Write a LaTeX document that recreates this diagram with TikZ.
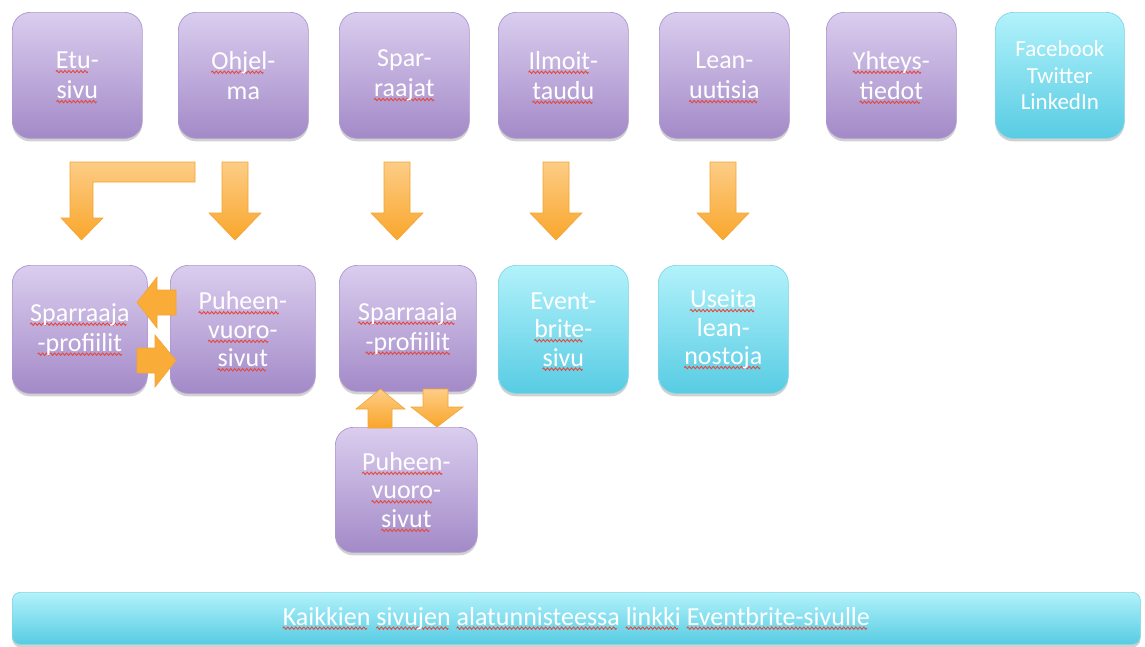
\documentclass[tikz,border=0pt]{standalone}
\usepackage{fontspec}
\setmainfont{Carlito}
\usetikzlibrary{shadows}
\definecolor{purpT}{HTML}{DACDEE}
\definecolor{purpB}{HTML}{A38AC8}
\definecolor{purpD}{HTML}{AC98D0}
\definecolor{cyanT}{HTML}{B2F2FB}
\definecolor{cyanB}{HTML}{58CCE3}
\definecolor{cyanD}{HTML}{84D4E6}
\definecolor{orT}{HTML}{FDCD86}
\definecolor{orB}{HTML}{F9A62B}
\definecolor{orD}{HTML}{F3A434}
\definecolor{sqred}{HTML}{E5483C}
\newsavebox\wavebox
\newsavebox\sqtmp
\newcommand\sq[1]{\sbox\sqtmp{#1}\rlap{\raisebox{-4.5pt}[0pt][0pt]{\hbox to \wd\sqtmp{\leaders\copy\wavebox\hfil}}}\usebox\sqtmp}
\tikzset{
  box/.style={rounded corners=18pt, anchor=north west, align=center, text=white,
    inner sep=0pt, font=\fontsize{26}{30}\selectfont, line width=0.7pt,
    drop shadow={shadow xshift=0pt, shadow yshift=-3pt, opacity=0.18, fill=black}},
  threeline/.style={font=\fontsize{26}{28.5}\selectfont},
  purplebox/.style={box, draw=purpD, top color=purpT, bottom color=purpB},
  cyanbox/.style={box, draw=cyanD, top color=cyanT, bottom color=cyanB},
  blockarrow/.style={draw=orD, line width=0.6pt, top color=orT, bottom color=orB, line join=miter},
  sidearrow/.style={draw=orD, line width=0.6pt, fill=orB!85!orT, line join=miter}
}
\begin{document}
\sbox\wavebox{\begin{pgfpicture}%
\pgfpathrectangle{\pgfpoint{0pt}{-1.5pt}}{\pgfpoint{4pt}{3pt}}\pgfusepath{use as bounding box}%
\pgfsetlinewidth{0.9pt}\pgfsetstrokecolor{sqred}%
\pgfpathmoveto{\pgfpoint{0pt}{0pt}}\pgfpathlineto{\pgfpoint{1pt}{1.2pt}}%
\pgfpathlineto{\pgfpoint{3pt}{-1.2pt}}\pgfpathlineto{\pgfpoint{4pt}{0pt}}\pgfusepath{stroke}%
\end{pgfpicture}}%
\begin{tikzpicture}[x=1pt,y=-1pt]
\useasboundingbox (0,0) rectangle (1145,646);
% top row
\node[purplebox, minimum width=130pt, minimum height=126pt] (etu) at (12,12) {\sq{Etu}-\\\sq{sivu}};
\node[purplebox, minimum width=130pt, minimum height=126pt] (ohj) at (178,12) {\sq{Ohjel}-\\ma};
\node[purplebox, minimum width=130pt, minimum height=126pt] (spar) at (339,12) {Spar-\\\sq{raajat}};
\node[purplebox, minimum width=130pt, minimum height=126pt] (ilm) at (498,12) {\sq{Ilmoit}-\\\sq{taudu}};
\node[purplebox, minimum width=130pt, minimum height=126pt] (lean) at (659,12) {Lean-\\\sq{uutisia}};
\node[purplebox, minimum width=130pt, minimum height=126pt] (yht) at (826,12) {\sq{Yhteys}-\\\sq{tiedot}};
\node[cyanbox, minimum width=129pt, minimum height=126pt, font=\fontsize{23}{26.5}\selectfont] (some) at (995,12) {Facebook\\Twitter\\LinkedIn};
% second row
\node[purplebox, minimum width=135pt, minimum height=128pt] (sp1) at (12,265) {\sq{Sparraaja}\\\sq{-profiilit}};
\node[purplebox, threeline, minimum width=145pt, minimum height=128pt] (pu1) at (170,265) {\sq{Puheen}-\\\sq{vuoro}-\\\sq{sivut}};
\node[purplebox, minimum width=137pt, minimum height=126pt] (sp2) at (339,265) {\sq{Sparraaja}\\\sq{-profiilit}};
\node[cyanbox, threeline, minimum width=130pt, minimum height=128pt] (evb) at (498,265) {Event-\\\sq{brite}-\\\sq{sivu}};
\node[cyanbox, threeline, minimum width=130pt, minimum height=128pt] (use) at (658,265) {\sq{Useita}\\lean-\\\sq{nostoja}};
% third
\node[purplebox, threeline, minimum width=142pt, minimum height=125pt] (pu2) at (335,427) {\sq{Puheen}-\\\sq{vuoro}-\\\sq{sivut}};
% bottom bar
\node[cyanbox, rounded corners=8pt, minimum width=1128pt, minimum height=52pt, font=\fontsize{26}{30}\selectfont] (bar) at (12,592)
  {\sq{Kaikkien} \sq{sivujen} \sq{alatunnisteessa} \sq{linkki} \sq{Eventbrite-sivulle}};
% bent arrow from Ohjelma to Sparraaja-profiilit
\path[blockarrow] (195,162) -- (70,162) -- (70,218) -- (61,218) -- (81.5,240) -- (103,218) -- (93,218) -- (93,182) -- (195,182) -- cycle;
% down arrows
\foreach \cx in {235,397,556,723}{
  \path[blockarrow] (\cx-13,162) -- (\cx+13,162) -- (\cx+13,213) -- (\cx+26,213) -- (\cx,240) -- (\cx-26,213) -- (\cx-13,213) -- cycle;
}
% side arrows between sp1 and pu1
\path[sidearrow] (176,290) -- (157,290) -- (157,277) -- (137,302.5) -- (157,328) -- (157,315) -- (176,315) -- cycle;
\path[sidearrow] (137,348) -- (155,348) -- (155,335) -- (176,360.5) -- (155,387) -- (155,373) -- (137,373) -- cycle;
% vertical arrows between sp2 and pu2
\path[blockarrow] (368,428) -- (368,409) -- (356,409) -- (380.5,389) -- (405,409) -- (392,409) -- (392,428) -- cycle;
\path[blockarrow] (423,389) -- (448,389) -- (448,407) -- (463,407) -- (437,427) -- (411,407) -- (423,407) -- cycle;
\end{tikzpicture}
\end{document}
